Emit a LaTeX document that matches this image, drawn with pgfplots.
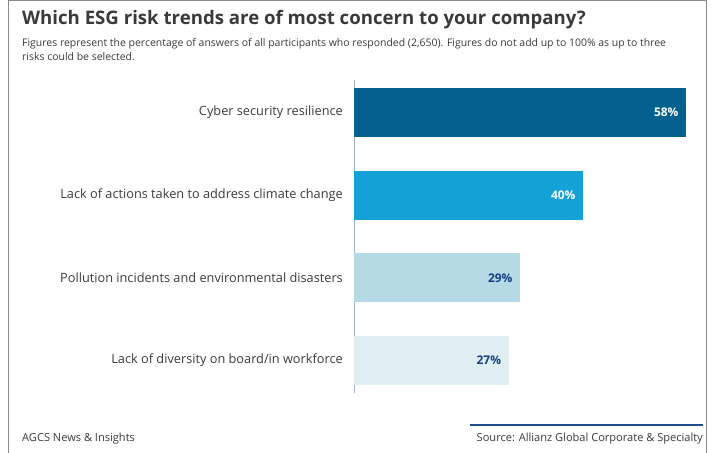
\documentclass[border=0pt]{standalone}
\usepackage{pgfplots}
\pgfplotsset{compat=1.18}
\usepackage{fontspec}
\setmainfont{Open Sans}

\definecolor{barA}{HTML}{02618F}
\definecolor{barB}{HTML}{14A1D6}
\definecolor{barC}{HTML}{B6DAE5}
\definecolor{barD}{HTML}{DFEEF2}
\definecolor{navy}{HTML}{163F84}
\definecolor{txt}{HTML}{3A3A3A}
\definecolor{framegray}{HTML}{8A8A8A}
\definecolor{axisblue}{HTML}{9DB2DA}
\definecolor{srcline}{HTML}{1F4E8C}

\begin{document}
\begin{tikzpicture}
\useasboundingbox (0,0) rectangle (713bp,453bp);
% frame
\draw[framegray, line width=0.9bp] (8.5bp,0) -- (8.5bp,452.5bp) -- (706.5bp,452.5bp) -- (706.5bp,0);

% title and subtitle
\node[anchor=base west, inner sep=0, text=txt, font=\bfseries\fontsize{18.7}{23}\selectfont]
  at (22bp,428bp) {Which ESG risk trends are of most concern to your company?};
\node[anchor=base west, inner sep=0, text=txt, font=\fontsize{10.5}{12}\selectfont]
  at (22bp,406bp) {Figures represent the percentage of answers of all participants who responded (2,650). Figures do not add up to 100\% as up to three};
\node[anchor=base west, inner sep=0, text=txt, font=\fontsize{10.5}{12}\selectfont]
  at (22bp,392bp) {risks could be selected.};

% footer
\node[anchor=base west, inner sep=0, text=txt, font=\fontsize{11.1}{13}\selectfont]
  at (22bp,12bp) {AGCS News \& Insights};
\node[anchor=base east, inner sep=0, text=txt, font=\fontsize{11.1}{13}\selectfont]
  at (703bp,12bp) {Source: Allianz Global Corporate \& Specialty};
\draw[srcline, line width=1.5bp] (470bp,28bp) -- (703bp,28bp);

\begin{axis}[
    at={(354bp,60bp)}, anchor=south west,
    scale only axis,
    width=332bp, height=313bp,
    xmin=0, xmax=58,
    ymin=-0.393, ymax=3.393,
    y dir=reverse,
    xbar,
    bar width=49bp,
    axis x line=none,
    axis y line=left,
    y axis line style={-, draw=axisblue, line width=0.8bp},
    ytick={0,1,2,3},
    yticklabels={Cyber security resilience,
                 Lack of actions taken to address climate change,
                 Pollution incidents and environmental disasters,
                 Lack of diversity on board/in workforce},
    major tick length=0pt,
    yticklabel style={anchor=east, inner sep=0pt, xshift=-11bp, text=txt,
                      font=\fontsize{12.8}{15}\selectfont},
    point meta=x,
    /pgf/number format/assume math mode=true,
    nodes near coords={\pgfmathprintnumber{\pgfplotspointmeta}\%},
    every node near coord/.append style={anchor=east, xshift=-4bp,
                      font=\bfseries\fontsize{12}{14}\selectfont},
    clip=false,
]
\addplot[bar shift=0pt, fill=barA, draw=none,
    every node near coord/.append style={text=white}]
    coordinates {(58,0)};
\addplot[bar shift=0pt, fill=barB, draw=none,
    every node near coord/.append style={text=white}]
    coordinates {(40,1)};
\addplot[bar shift=0pt, fill=barC, draw=none,
    every node near coord/.append style={text=navy}]
    coordinates {(29,2)};
\addplot[bar shift=0pt, fill=barD, draw=none,
    every node near coord/.append style={text=navy}]
    coordinates {(27,3)};
\end{axis}
\end{tikzpicture}
\end{document}
